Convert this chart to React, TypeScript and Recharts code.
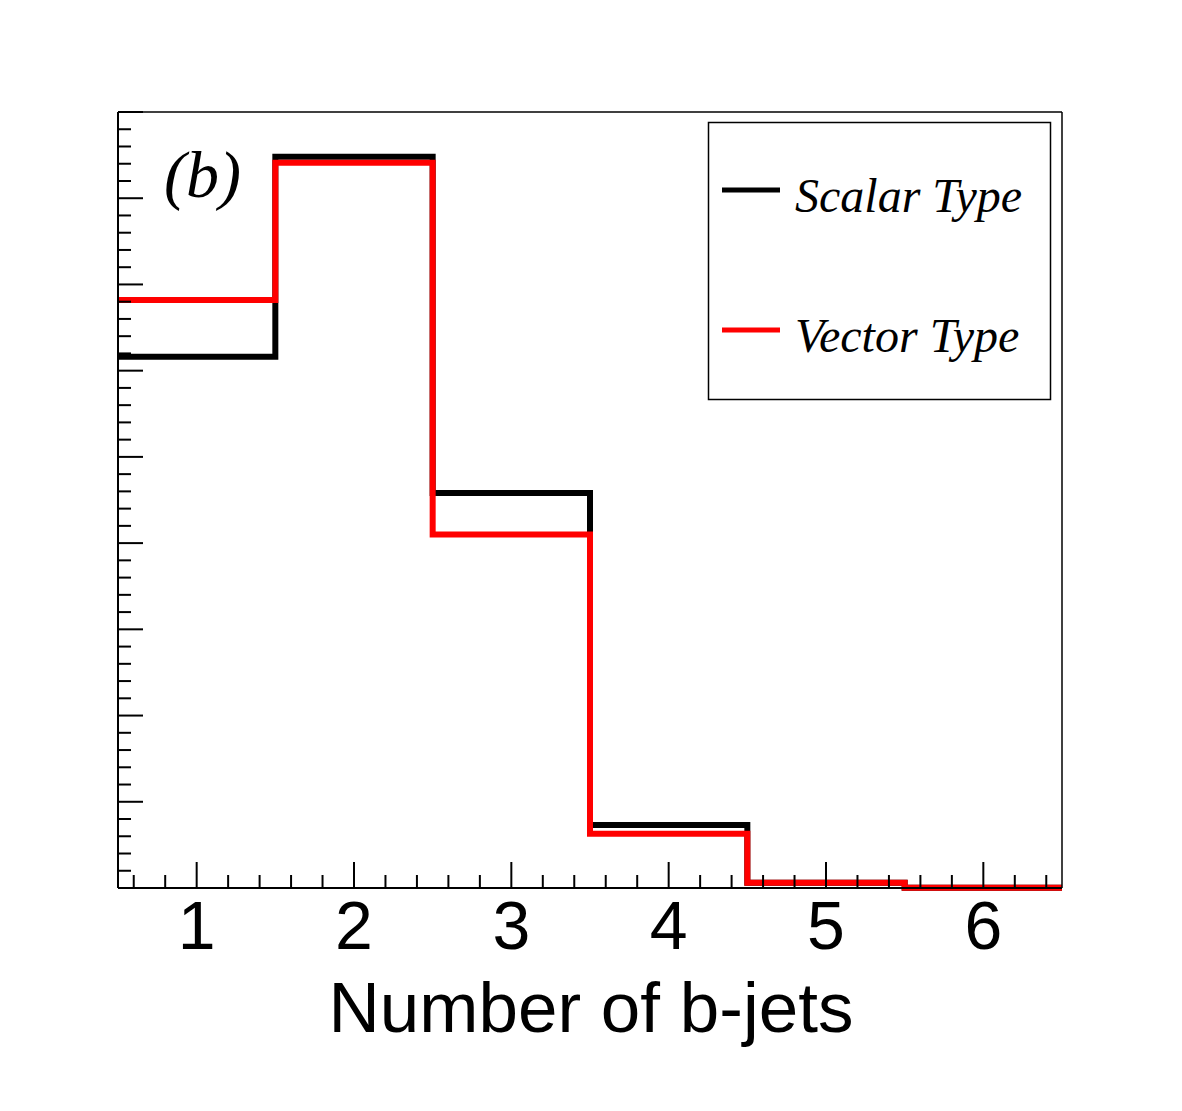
import { ComposedChart, Label, Line, XAxis, YAxis } from 'recharts'

// bin centres of the histogram (number of b-jets)
const binCenters = [1, 2, 3, 4, 5, 6]
const scalarType = [6.16, 8.48, 4.58, 0.73, 0.06, 0.004]
const vectorType = [6.82, 8.41, 4.1, 0.63, 0.06, 0.004]

const seriesNames = ['Scalar Type', 'Vector Type']
const seriesColors = ['#000000', '#ff0000']

const xMajorTicks = [1, 2, 3, 4, 5, 6]
const xLabel = 'Number of b-jets'
const panelTag = '(b)'

const W = 1182
const H = 1111
const PLOT = { left: 118, top: 112, right: 1062, bottom: 888 }

// histogram as step line: one point per lower bin edge + closing edge
const data = binCenters.map((c, i) => ({
  x: c - 0.5,
  scalar: scalarType[i],
  vector: vectorType[i],
}))
data.push({
  x: binCenters[binCenters.length - 1] + 0.5,
  scalar: scalarType[scalarType.length - 1],
  vector: vectorType[vectorType.length - 1],
})

// minor ticks every 0.2
const xTicks: number[] = []
for (let v = 0.6; v < 6.45; v += 0.2) xTicks.push(Math.round(v * 10) / 10)
const yTicks: number[] = []
for (let v = 0; v <= 9.001; v += 0.2) yTicks.push(Math.round(v * 10) / 10)

const isMajor = (v: number) => Math.abs(v - Math.round(v)) < 1e-6

function XTick(props: any) {
  const { x, y, payload } = props
  const major = isMajor(payload.value)
  const len = major ? 26 : 13
  return (
    <g>
      <line x1={x} y1={y} x2={x} y2={y - len} stroke="#000" strokeWidth={2} />
      {major && xMajorTicks.includes(payload.value) && (
        <text
          x={x}
          y={y + 61}
          textAnchor="middle"
          fontSize={68}
          fontFamily="'Liberation Sans', Arial, sans-serif"
          fill="#000"
        >
          {payload.value}
        </text>
      )}
    </g>
  )
}

function YTick(props: any) {
  const { x, y, payload } = props
  const len = isMajor(payload.value) ? 25 : 13
  return <line x1={x} y1={y} x2={x + len} y2={y} stroke="#000" strokeWidth={2} />
}

export default function App() {
  return (
    <div style={{ position: 'relative', width: W, height: H, background: '#fff' }}>
      <style>{'body{margin:0}'}</style>
      <ComposedChart
        width={W}
        height={H}
        data={data}
        margin={{ top: PLOT.top - 1, right: W - PLOT.right - 1, bottom: 0, left: PLOT.left - 1 }}
      >
        <XAxis
          dataKey="x"
          type="number"
          domain={[0.5, 6.5]}
          ticks={xTicks}
          interval={0}
          height={H - PLOT.bottom}
          tickSize={0}
          tickMargin={0}
          tickLine={false}
          tick={<XTick />}
          axisLine={{ stroke: '#000', strokeWidth: 2 }}
        >
          <Label
            content={(p: any) => {
              const vb = p.viewBox
              return (
                <text
                  x={vb.x + vb.width / 2 + 1}
                  y={vb.y + 144}
                  textAnchor="middle"
                  fontSize={71}
                  fontFamily="'Liberation Sans', Arial, sans-serif"
                  fill="#000"
                >
                  {xLabel}
                </text>
              )
            }}
          />
        </XAxis>
        <XAxis
          xAxisId="top"
          orientation="top"
          type="number"
          domain={[0.5, 6.5]}
          height={1}
          tick={false}
          tickLine={false}
          axisLine={{ stroke: '#000', strokeWidth: 1.5 }}
        />
        <YAxis
          type="number"
          domain={[0, 9]}
          ticks={yTicks}
          interval={0}
          width={1}
          tickSize={0}
          tickMargin={0}
          tickLine={false}
          tick={<YTick />}
          axisLine={{ stroke: '#000', strokeWidth: 2 }}
        />
        <YAxis
          yAxisId="right"
          orientation="right"
          type="number"
          domain={[0, 9]}
          width={1}
          tick={false}
          tickLine={false}
          axisLine={{ stroke: '#000', strokeWidth: 1.5 }}
        />
        <Line
          type="stepAfter"
          dataKey="scalar"
          stroke={seriesColors[0]}
          strokeWidth={6}
          dot={false}
          activeDot={false}
          isAnimationActive={false}
        />
        <Line
          type="stepAfter"
          dataKey="vector"
          stroke={seriesColors[1]}
          strokeWidth={6}
          dot={false}
          activeDot={false}
          isAnimationActive={false}
        />
      </ComposedChart>

      {/* panel tag and legend box, drawn on top of the plot */}
      <svg
        width={W}
        height={H}
        style={{ position: 'absolute', left: 0, top: 0, pointerEvents: 'none' }}
      >
        <text
          x={164}
          y={197}
          fontSize={66}
          fontStyle="italic"
          fontFamily="'Liberation Serif', 'Times New Roman', serif"
          fill="#000"
        >
          {panelTag}
        </text>
        <rect x={708.5} y={122.5} width={342} height={277} fill="#fff" stroke="#000" strokeWidth={1.5} />
        {seriesNames.map((name, i) => {
          const cy = 190 + i * 140
          return (
            <g key={name}>
              <line x1={722} y1={cy} x2={780} y2={cy} stroke={seriesColors[i]} strokeWidth={5} />
              <text
                x={795}
                y={cy + 22}
                fontSize={48}
                fontStyle="italic"
                fontFamily="'Liberation Serif', 'Times New Roman', serif"
                fill="#000"
              >
                {name}
              </text>
            </g>
          )
        })}
      </svg>
    </div>
  )
}
